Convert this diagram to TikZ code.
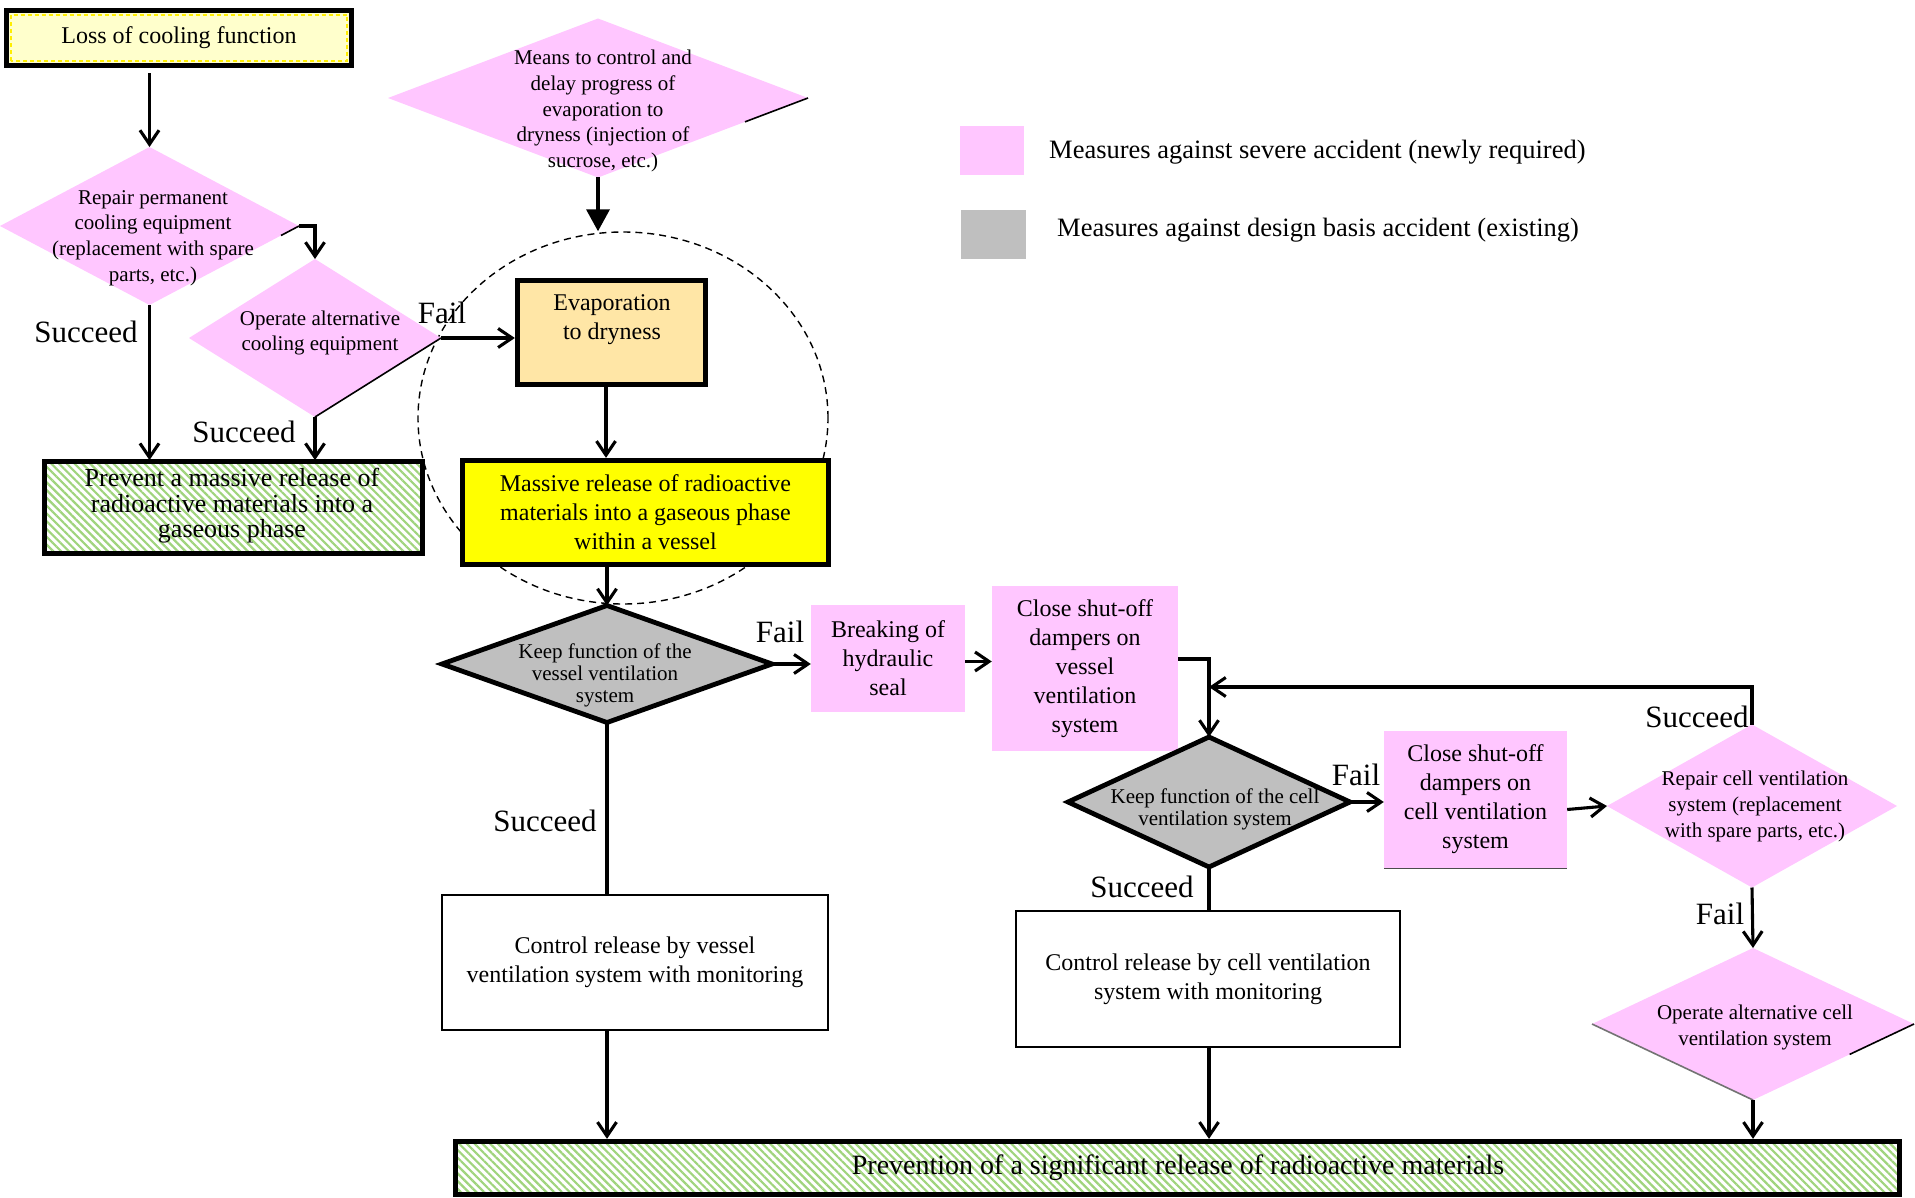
\documentclass[tikz,border=0pt]{standalone}
\usepackage{fontspec}
\setmainfont{Liberation Serif}
\usetikzlibrary{arrows.meta,shapes.geometric,patterns.meta,calc}
\definecolor{pinkf}{RGB}{255,198,255}
\definecolor{grayf}{RGB}{191,191,191}
\definecolor{evapf}{RGB}{255,230,166}
\definecolor{lossf}{RGB}{255,255,204}
\definecolor{hatchg}{RGB}{160,212,125}
\definecolor{dashy}{RGB}{255,238,0}
\definecolor{yelf}{RGB}{255,255,0}
\newcommand\tightlines{\lineskiplimit-100pt\relax}
\begin{document}
\begin{tikzpicture}[x=1pt,y=-1pt,
  fs/.style={font=\fontsize{21}{25.6}\selectfont\tightlines},
  fg/.style={font=\fontsize{21}{22}\selectfont\tightlines},
  fm/.style={font=\fontsize{24}{29}\selectfont\tightlines},
  fp/.style={font=\fontsize{26}{25.5}\selectfont\tightlines},
  flab/.style={font=\fontsize{31}{36}\selectfont, inner sep=0pt},
  flg/.style={font=\fontsize{26.5}{30}\selectfont, inner sep=0pt},
  txt/.style={align=center, inner sep=0pt},
  pdia/.style={diamond, fill=pinkf, inner sep=0pt, outer sep=0pt},
  gdia/.style={diamond, fill=grayf, draw=black, line width=4.8pt, inner sep=0pt, outer sep=0pt},
  pbox/.style={rectangle, fill=pinkf, inner sep=0pt, align=center},
  tbox/.style={rectangle, draw=black, line width=4.8pt, inner sep=0pt, align=center},
  wbox/.style={rectangle, draw=black, line width=1.5pt, fill=white, inner sep=0pt, align=center},
  hbox/.style={tbox, pattern={Lines[angle=-45,distance=5.5pt,line width=2.2pt]}, pattern color=hatchg},
  arr/.style={line width=3.1pt, -{Straight Barb[length=14pt,width=19pt]}},
  ln/.style={line width=3.1pt},
  art/.style={line width=1.6pt, black},
]
\useasboundingbox (0,0) rectangle (1915,1198);

% dashed ellipse (behind)
\node[ellipse, draw, line width=1.4pt, dash pattern=on 7pt off 5pt, minimum width=410pt, minimum height=372pt, inner sep=0pt] (circ) at (623,418) {};

% top-left chain
\node[tbox, fill=lossf, fm, minimum width=345.5pt, minimum height=55.5pt] (loss) at (179,38) {Loss of cooling function};
\draw[dashy, line width=2pt, dash pattern=on 4pt off 3pt] ($(loss.south west)+(7,-7)$) rectangle ($(loss.north east)+(-7,7)$);

\node[pdia, minimum width=299pt, minimum height=158pt] (rp) at (149.5,226) {};
\node[txt, fs] (rpt) at (153,238) {Repair permanent\\cooling equipment\\(replacement with spare\\parts, etc.)};

\node[pdia, minimum width=252pt, minimum height=158pt] (oa) at (315,338) {};
\node[txt, fs] (oat) at (320,333) {Operate alternative\\cooling equipment};

\node[pdia, minimum width=420pt, minimum height=159pt] (means) at (598,98) {};
\node[txt, fs] (meanst) at (603,111) {Means to control and\\delay progress of\\evaporation to\\dryness (injection of\\sucrose, etc.)};

\node[hbox, minimum width=378.5pt, minimum height=92.5pt] (prev) at (233.5,507.5) {};
\node[txt, fp] (prevt) at (232,506) {Prevent a massive release of\\radioactive materials into a\\gaseous phase};

\node[tbox, fill=evapf, minimum width=188.5pt, minimum height=104.5pt] (evap) at (611.5,332.5) {};
\node[txt, fm] (evapt) at (612,320) {Evaporation\\to dryness};

\node[tbox, fill=yelf, fm, minimum width=366.5pt, minimum height=104.5pt] (mass) at (645.5,512.5) {Massive release of radioactive\\materials into a gaseous phase\\within a vessel};

% vessel ventilation row
\node[gdia, minimum width=330pt, minimum height=117pt] (kv) at (607,664) {};
\node[txt, fg] (kvt) at (605,675) {Keep function of the\\vessel ventilation\\system};

\node[pbox, fm, minimum width=154pt, minimum height=107pt] (brk) at (888,658.5) {Breaking of\\hydraulic\\seal};
\node[pbox, fm, minimum width=186pt, minimum height=165pt] (clv) at (1085,668.5) {Close shut-off\\dampers on\\vessel\\ventilation\\system};

% cell ventilation row
\node[gdia, minimum width=282pt, minimum height=130pt] (kc) at (1209,802) {};
\node[txt, fg] (kct) at (1215,809) {Keep function of the cell\\ventilation system};

\node[pbox, fm, minimum width=183pt, minimum height=137pt] (clc) at (1475.5,799.5) {Close shut-off\\dampers on\\cell ventilation\\system};
\draw[line width=1pt, black!70] (clc.south west) -- (clc.south east);

\node[pdia, minimum width=290pt, minimum height=163pt] (rc) at (1752,806) {};
\node[txt, fs] (rct) at (1755,806.5) {Repair cell ventilation\\system (replacement\\with spare parts, etc.)};

\node[pdia, minimum width=322pt, minimum height=152pt] (oc) at (1753,1024) {};
\node[txt, fs] (oct) at (1755,1027.5) {Operate alternative cell\\ventilation system};

% control boxes
\node[wbox, fm, minimum width=386pt, minimum height=135pt] (ctlv) at (635,962.5) {Control release by vessel\\ventilation system with monitoring};
\node[wbox, fm, minimum width=384pt, minimum height=136pt] (ctlc) at (1208,979) {Control release by cell ventilation\\system with monitoring};

% bottom box
\node[hbox, minimum width=1444.5pt, minimum height=53.5pt] (prevn) at (1177.5,1168) {};
\node[txt, font=\fontsize{28}{32}\selectfont] (prevnt) at (1178,1168) {Prevention of a significant release of radioactive materials};

% legend
\node[rectangle, fill=pinkf, minimum width=64pt, minimum height=49pt, inner sep=0pt] (lgp) at (992,150.5) {};
\node[flg, anchor=west] (lgpt) at (1049,152) {Measures against severe accident (newly required)};
\node[rectangle, fill=grayf, minimum width=65pt, minimum height=49pt, inner sep=0pt] (lgg) at (993.5,234.5) {};
\node[flg, anchor=west] (lggt) at (1057,230) {Measures against design basis accident (existing)};

% artifact edges
\draw[art] (oa.east) -- (oa.south);
\draw[art] (rp.east) -- ($(rp.east)!0.12!(rp.south)$);
\draw[art] (means.east) -- ($(means.east)!0.3!(means.south)$);
\draw[art, black!55] (oc.west) -- (oc.south);
\draw[art] (oc.east) -- ($(oc.east)!0.4!(oc.south)$);

% connectors
\coordinate (lossout) at ($(rp.north |- loss.south)+(0,5)$);
\draw[arr] (lossout) -- (rp.north);
\draw[arr] (rp.east) -| (oa.north);
\draw[arr] (rp.south) -- (rp.south |- prev.north);
\draw[arr] (oa.south) -- (oa.south |- prev.north);
\draw[arr] (oa.east) -- (oa.east -| evap.west);
\draw[line width=3.6pt, -{Triangle[length=22pt,width=23pt]}] (means.south) -- (means.south |- circ.north);
\draw[arr] ([xshift=-5.5pt]evap.south) -- ([xshift=-5.5pt]evap.south |- mass.north);
\draw[arr] (kv.north |- mass.south) -- (kv.north);
\draw[arr] (kv.east) -- (kv.east -| brk.west);
\draw[arr] ([yshift=-3pt]brk.east) -- ([yshift=-3pt]brk.east -| clv.west);
\draw[arr] ([yshift=9.5pt]clv.east) -| (kc.north);
\draw[arr] (kc.east) -- (kc.east -| clc.west);
\draw[arr] ([yshift=-10pt]clc.east) -- (rc.west);
\coordinate (mergey) at (0,687);
\coordinate (merge) at (kc.north |- mergey);
\draw[arr] (rc.north) |- (merge);
\draw[arr] (rc.south) -- (oc.north);
\draw[arr] (oc.south) -- (oc.south |- prevn.north);
\draw[ln] (kv.south) -- (kv.south |- ctlv.north);
\draw[arr] (kv.south |- ctlv.south) -- (kv.south |- prevn.north);
\draw[ln] (kc.south) -- (kc.south |- ctlc.north);
\draw[arr] (kc.south |- ctlc.south) -- (kc.south |- prevn.north);

% labels
\node[flab] (l1) at (86,332) {Succeed};
\node[flab] (l2) at (244,432) {Succeed};
\node[flab] (l3) at (442,313) {Fail};
\node[flab] (l4) at (780,632) {Fail};
\node[flab] (l5) at (545,821) {Succeed};
\node[flab] (l6) at (1142,887) {Succeed};
\node[flab] (l7) at (1356,775) {Fail};
\node[flab] (l8) at (1697,717) {Succeed};
\node[flab] (l9) at (1720,914) {Fail};
\end{tikzpicture}
\end{document}
